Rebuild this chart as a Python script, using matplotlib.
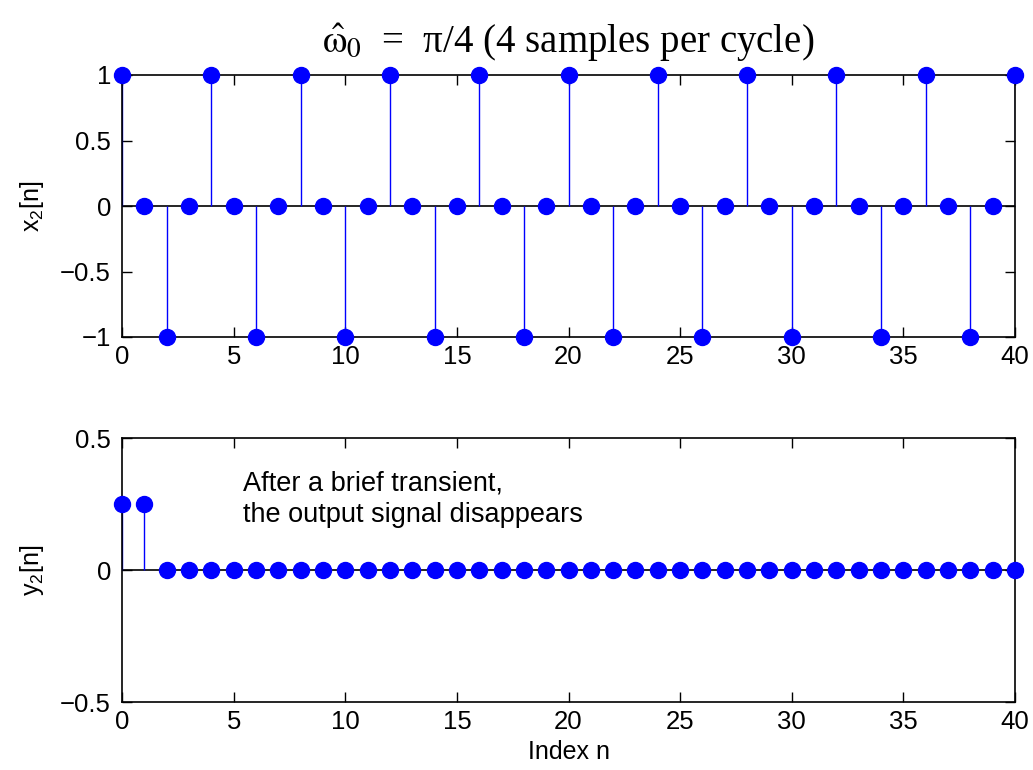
import matplotlib.pyplot as plt

plt.rcParams['font.family'] = 'Liberation Sans'
plt.rcParams['mathtext.fontset'] = 'custom'
plt.rcParams['mathtext.rm'] = 'Liberation Sans'
plt.rcParams['mathtext.it'] = 'Liberation Sans'

n = list(range(41))
x2 = [1, 0, -1, 0, 1, 0, -1, 0, 1, 0, -1, 0, 1, 0, -1, 0, 1, 0, -1, 0, 1,
      0, -1, 0, 1, 0, -1, 0, 1, 0, -1, 0, 1, 0, -1, 0, 1, 0, -1, 0, 1]
y2 = [0.25, 0.25] + [0] * 39

xticks = [0, 5, 10, 15, 20, 25, 30, 35, 40]
x2_ticks = [-1, -0.5, 0, 0.5, 1]
y2_ticks = [-0.5, 0, 0.5]


def fmt(v):
    s = ('%g' % v).replace('-', '\u2212')
    return s


def stem_axes(ax, xs, ys):
    ax.axhline(0, color='black', lw=1.2, zorder=1)
    ax.vlines(xs, 0, ys, color='blue', lw=1, zorder=2)
    ax.plot(xs, ys, 'o', color='blue', ms=11.5, zorder=3, clip_on=False)
    ax.set_xlim(0, 40)
    ax.set_xticks(xticks)
    ax.set_xticklabels([fmt(t) for t in xticks])
    ax.tick_params(direction='in', length=7, width=1, labelsize=18.5, pad=6,
                   top=True, right=True)
    ax.tick_params(axis='y', pad=8)
    for s in ax.spines.values():
        s.set_linewidth(1.2)


fig = plt.figure(figsize=(10.33, 7.7), dpi=100)
ax1 = fig.add_axes([122/1033, 1-337/770, 893/1033, 262/770])
ax2 = fig.add_axes([122/1033, 1-702/770, 893/1033, 264/770])

stem_axes(ax1, n, x2)
ax1.set_ylim(-1, 1)
ax1.set_yticks(x2_ticks)
ax1.set_yticklabels([fmt(t) for t in x2_ticks])
ax1.set_ylabel('x$_2$[n]', fontsize=18, labelpad=10)
ax1.set_title(r'$\hat{\mathrm{\omega}}_0$  =  π/4 (4 samples per cycle)',
              family='Liberation Serif', fontsize=28, pad=16,
              math_fontfamily='stix')

stem_axes(ax2, n, y2)
ax2.set_ylim(-0.5, 0.5)
ax2.set_yticks(y2_ticks)
ax2.set_yticklabels([fmt(t) for t in y2_ticks])
ax2.set_ylabel('y$_2$[n]', fontsize=18, labelpad=10)
ax2.set_xlabel('Index n', fontsize=18, labelpad=4)
ax2.text(5.4, 0.375, 'After a brief transient,\nthe output signal disappears',
         fontsize=19.5, va='top', ha='left', linespacing=1.25)

fig.savefig('out.png', dpi=100)
